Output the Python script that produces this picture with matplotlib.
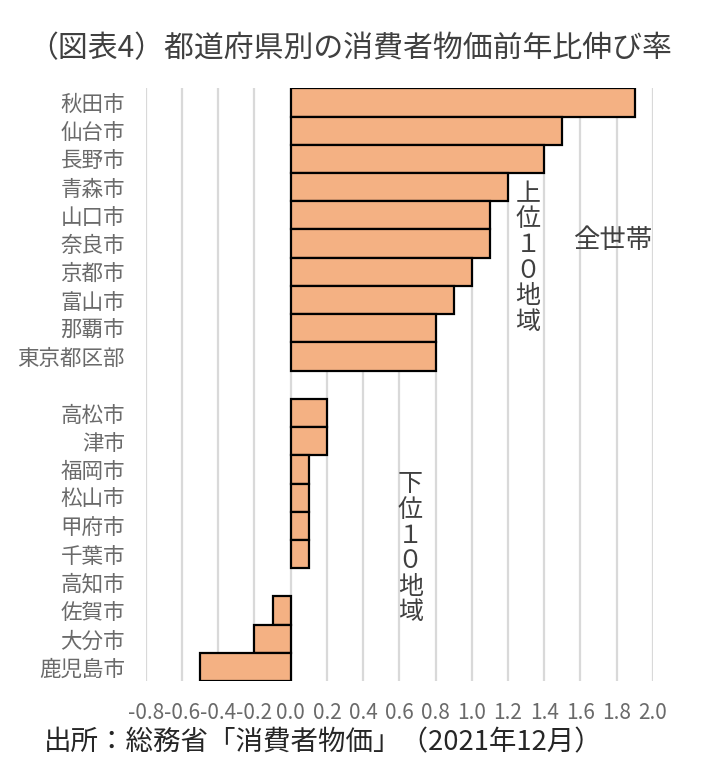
import matplotlib
matplotlib.use("Agg")
import matplotlib.pyplot as plt
import numpy as np

plt.rcParams['font.family'] = ['Noto Sans CJK JP', 'DejaVu Sans']

# top 10 and bottom 10 regions (year-on-year CPI change, %)
top_cities = ['秋田市', '仙台市', '長野市', '青森市', '山口市',
              '奈良市', '京都市', '富山市', '那覇市', '東京都区部']
top_values = [1.9, 1.5, 1.4, 1.2, 1.1, 1.1, 1.0, 0.9, 0.8, 0.8]
bottom_cities = ['高松市', '津市', '福岡市', '松山市', '甲府市',
                 '千葉市', '高知市', '佐賀市', '大分市', '鹿児島市']
bottom_values = [0.2, 0.2, 0.1, 0.1, 0.1, 0.1, 0.0, -0.1, -0.2, -0.5]
xticks = [-0.8, -0.6, -0.4, -0.2, 0.0, 0.2, 0.4, 0.6, 0.8,
          1.0, 1.2, 1.4, 1.6, 1.8, 2.0]

bar_color = '#F4B183'
grey_text = '#6A6A6A'

# one empty slot between the two groups
labels = top_cities + [''] + bottom_cities
values = top_values + [np.nan] + bottom_values
y = np.arange(len(labels))

fig = plt.figure(figsize=(7.08, 7.82), dpi=100)
ax = fig.add_axes([0.206, 0.129, 0.716, 0.758])

edges = ['none' if (np.isnan(v) or v == 0) else 'black' for v in values]
ax.barh(y, np.nan_to_num(values), height=1.0, color=bar_color,
        edgecolor=edges, linewidth=1.6, zorder=3)

ax.set_xlim(-0.8, 2.0)
ax.set_ylim(len(labels) - 0.5, -0.5)
ax.set_xticks(xticks)
ax.set_xticklabels(['{:.1f}'.format(t) for t in xticks])
ax.set_yticks(y)
ax.set_yticklabels(labels)
ax.tick_params(axis='x', length=0, labelsize=15, labelcolor=grey_text, pad=15)
ax.tick_params(axis='y', length=0, labelsize=15.5, labelcolor=grey_text, pad=15)
ax.xaxis.grid(True, color='#D9D9D9', linewidth=1.6, zorder=0)
for s in ax.spines.values():
    s.set_visible(False)

# group annotations
ax.text(1.31, 5.5, '\n'.join('上位１０地域'), ha='center', va='center',
        fontsize=18, color='#404040', linespacing=0.98, zorder=4)
ax.text(1.78, 4.9, '全世帯', ha='center', va='center',
        fontsize=19, color='#404040', zorder=4)
ax.text(0.66, 15.8, '\n'.join('下位１０地域'), ha='center', va='center',
        fontsize=18, color='#404040', linespacing=0.98, zorder=4)

fig.text(0.495, 0.938, '（図表4）都道府県別の消費者物価前年比伸び率',
         ha='center', va='center', fontsize=21.5, color='#404040')
fig.text(0.062, 0.05, '出所：総務省「消費者物価」（2021年12月）',
         ha='left', va='center', fontsize=19.8, color='#262626')

fig.savefig('out.png', dpi=100)
